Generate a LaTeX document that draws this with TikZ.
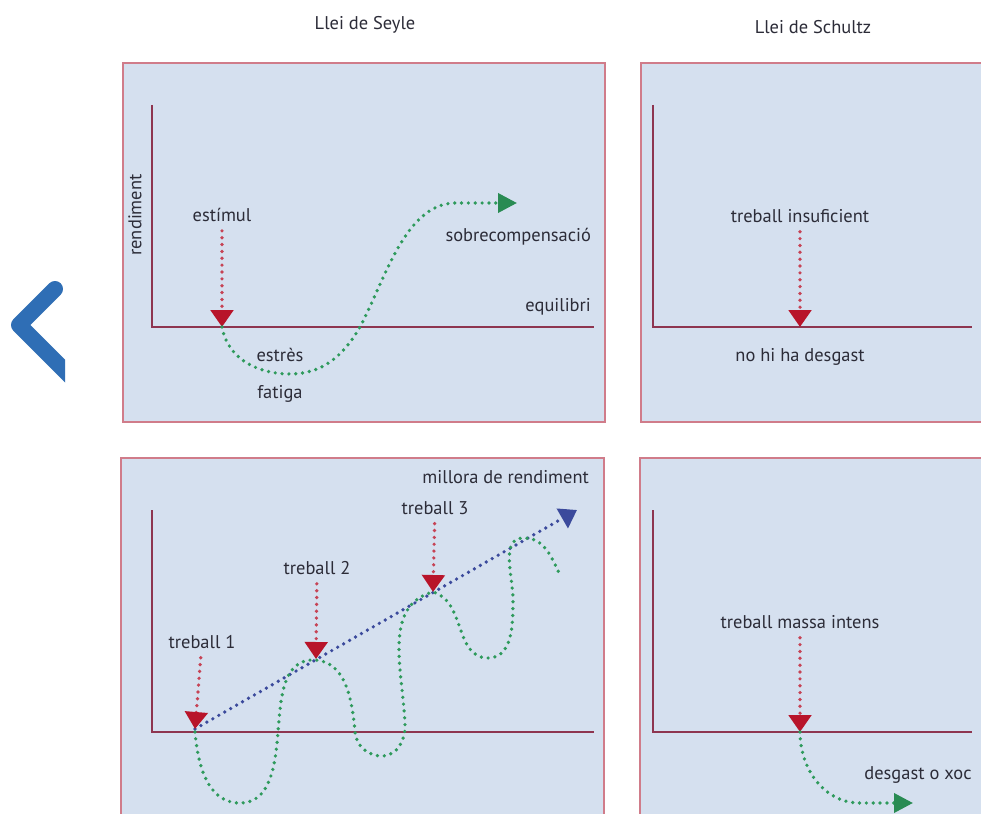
\documentclass[tikz,border=0pt]{standalone}
\usepackage{fontspec}
\setmainfont{PT Sans}
\usetikzlibrary{arrows.meta}
\definecolor{panelFill}{HTML}{D5E0EF}
\definecolor{panelEdge}{HTML}{D07C8A}
\definecolor{axisRed}{HTML}{8E3550}
\definecolor{stimRed}{HTML}{B8142A}
\definecolor{curveGreen}{HTML}{2E9A5C}
\definecolor{trendBlue}{HTML}{3B4A9C}
\definecolor{chevBlue}{HTML}{2F6EB5}
\definecolor{txtGray}{HTML}{2C2C38}
\tikzset{
  panel/.style={draw=panelEdge,fill=panelFill,line width=0.8pt},
  axis/.style={draw=axisRed,line width=1.3pt},
  lbl/.style={font=\fontsize{10.5}{12}\selectfont,text=txtGray,inner sep=1pt},
  dots/.style={line width=2.1pt,line cap=round,dash pattern=on 0pt off 3.9pt},
  stimarrow/.style={dots,draw=stimRed!80,shorten <=4pt,
    -{Triangle[length=3.4mm,width=4.5mm,color=stimRed]}},
  curve/.style={dots,draw=curveGreen},
  curvearrow/.style={curve,-{Triangle[length=3.8mm,width=3.8mm,color=curveGreen!90!black]}},
  trend/.style={dots,draw=trendBlue,-{Triangle[length=3.4mm,width=4.4mm,color=trendBlue]}},
  chev/.style={draw=chevBlue,line width=0.32cm,line cap=round,line join=round}
}

\begin{document}
\begin{tikzpicture}[x=0.02cm,y=-0.02cm]
  \useasboundingbox (0,0) rectangle (981,814);
  \clip (0,0) rectangle (981,814);
  \fill[white] (0,0) rectangle (981,814);

  % back chevron
  \begin{scope}
    \clip (0,250) rectangle (65,400);
    \draw[chev] (55,289) -- (19,325) -- (75,381);
  \end{scope}

  % titles
  \node[lbl] (seyle) at (365,25) {Llei de Seyle};
  \node[lbl] (schultz) at (813,27) {Llei de Schultz};

  % panels
  \draw[panel] (123,63) rectangle (605,422);
  \draw[panel] (641,63) rectangle (995,422);
  \draw[panel] (121,458) rectangle (604,830);
  \draw[panel] (640,458) rectangle (995,830);

  % axes
  \draw[axis] (152,105) -- (152,327) -- (594,327);
  \draw[axis] (653,105) -- (653,327) -- (972,327);
  \draw[axis] (152,510) -- (152,732) -- (594,732);
  \draw[axis] (653,510) -- (653,732) -- (972,732);

  % Seyle, one stimulus
  \node[lbl,rotate=90] (rend) at (135,215) {rendiment};
  \node[lbl] (estimul) at (222,215) {estímul};
  \node[lbl,anchor=east] (sobrecomp) at (593,237) {sobrecompensació};
  \node[lbl,anchor=east] (equilibri) at (593,307) {equilibri};
  \node[lbl] (estres) at (280,355) {estrès};
  \node[lbl] (fatiga) at (280,394) {fatiga};
  \coordinate (s1) at (222,327);
  \coordinate (s1end) at (517,203);
  \draw[stimarrow] (estimul) -- (s1);
  \draw[curvearrow] (s1) to[out=-80,in=180] (290,374) to[out=0,in=-120] (360,327)
    .. controls (385,280) and (405,204) .. (455,203) -- (s1end);

  % Schultz, too little work
  \node[lbl] (insuf) at (800,216) {treball insuficient};
  \node[lbl] (nodesg) at (800,357) {no hi ha desgast};
  \coordinate (s2) at (800,327);
  \draw[stimarrow] (insuf) -- (s2);

  % Seyle, repeated work
  \node[lbl,anchor=east] (millora) at (591,477) {millora de rendiment};
  \node[lbl] (treball1) at (202,642) {treball 1};
  \node[lbl] (treball2) at (317,568) {treball 2};
  \node[lbl] (treball3) at (435,508) {treball 3};
  \coordinate (w1) at (195,729);
  \coordinate (w2) at (316,659);
  \coordinate (w3) at (433,592);
  \coordinate (wend) at (577,510);
  \draw[trend] (w1) -- (wend);
  \draw[stimarrow] (treball1) -- (w1);
  \draw[stimarrow] (treball2) -- (w2);
  \draw[stimarrow] (treball3) -- (w3);
  \draw[curve] (195,732) to[out=-85,in=180] (240,803) to[out=0,in=-95] (278,732)
    to[out=85,in=180] (313,660) to[out=0,in=95] (355,732)
    to[out=-85,in=180] (382,756) to[out=0,in=-88] (405,725)
    to[out=92,in=195] (433,592) to[out=-15,in=180] (488,658)
    to[out=0,in=-90] (513,600) to[out=90,in=180] (524,538)
    to[out=0,in=115] (560,575);

  % Schultz, too much work
  \node[lbl] (massa) at (800,622) {treball massa intens};
  \node[lbl] (xoc) at (918,775) {desgast o xoc};
  \coordinate (s3) at (800,732);
  \coordinate (s3end) at (913,803);
  \draw[stimarrow] (massa) -- (s3);
  \draw[curvearrow] (s3) to[out=-90,in=180] (860,803) -- (s3end);
\end{tikzpicture}
\end{document}
